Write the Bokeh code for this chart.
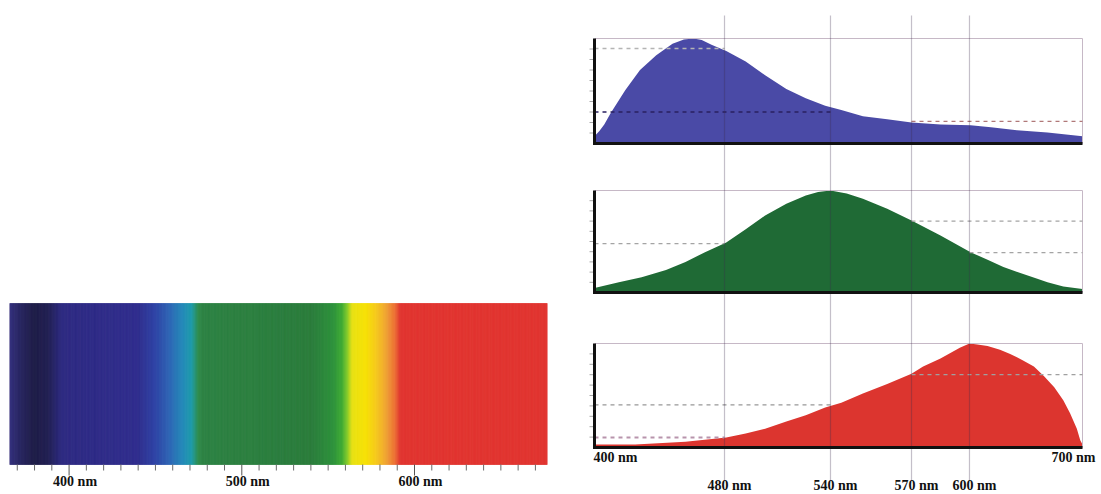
import numpy as np
from bokeh.plotting import figure
from bokeh.layouts import row
from bokeh.models import Range1d, ColumnDataSource
from bokeh.core.properties import value
from bokeh.embed import file_html
from bokeh.resources import INLINE

# ---------------- data ----------------
# visible spectrum strip: colour stops (wavelength in nm -> colour)
SPECTRUM_NM = [365.5, 372, 380, 388, 396, 440, 450, 458, 466, 471, 475, 478, 540, 553, 558, 561, 564,
               572, 578, 584, 589, 592, 677]
SPECTRUM_COLORS = ["#302c7c", "#24225e", "#1a1944", "#1e1c50", "#2a2680", "#2c2a8c", "#2a40a4", "#2a62b4",
                   "#2088b8", "#1a9aa8", "#2a8a48", "#2a8040", "#267a38", "#2a9038", "#3aa830", "#7cc828",
                   "#e8e010", "#f8e000", "#f6c818", "#f0a030", "#ec6a30", "#e0302c", "#e0302c"]
SPECTRUM_MAJOR = [400, 500, 600]
SPECTRUM_MAJOR_LABELS = ["400 nm", "500 nm", "600 nm"]
SPECTRUM_MINOR = [t for t in range(370, 677, 10) if t not in (400, 500, 600)]

# cone sensitivity curves (relative, 0..1)
BLUE_NM = [400, 403, 406, 410, 419, 428, 438, 448, 455, 461, 466, 472, 481, 492, 503, 515, 526, 537, 544,
           552, 561, 570, 585, 601, 619, 642, 669, 700]
BLUE_V = [0.07, 0.12, 0.18, 0.29, 0.51, 0.70, 0.84, 0.95, 0.99, 1.00, 0.985, 0.94, 0.88, 0.78, 0.65, 0.52,
          0.43, 0.36, 0.32, 0.26, 0.23, 0.20, 0.18, 0.174, 0.155, 0.127, 0.105, 0.07]

GREEN_NM = [400, 415, 429, 444, 456, 468, 481, 492, 503, 515, 526, 533, 540, 546, 552, 561, 570, 585, 601,
            616, 630, 645, 660, 669, 683, 700]
GREEN_V = [0.045, 0.10, 0.15, 0.22, 0.30, 0.395, 0.49, 0.62, 0.755, 0.87, 0.95, 0.985, 1.00, 0.97, 0.92,
           0.82, 0.706, 0.56, 0.395, 0.32, 0.25, 0.19, 0.134, 0.10, 0.06, 0.035]

RED_NM = [400, 425, 456, 481, 492, 503, 515, 526, 537, 544, 552, 561, 570, 576, 585, 595, 600, 607, 616,
          627, 636, 647, 657, 666, 675, 683, 689, 695, 698, 700]
RED_V = [0.03, 0.03, 0.055, 0.096, 0.135, 0.18, 0.25, 0.31, 0.385, 0.43, 0.52, 0.61, 0.71, 0.78, 0.856,
         0.96, 1.00, 0.99, 0.975, 0.94, 0.90, 0.84, 0.78, 0.685, 0.58, 0.455, 0.33, 0.18, 0.07, 0.03]

# dashed reference levels in each panel
BLUE_REF_LEVEL = [0.905, 0.30, 0.21]
BLUE_REF_FROM = [400, 400, 570]
BLUE_REF_TO = [480, 540, 700]
GREEN_REF_LEVEL = [0.48, 0.70, 0.39]
GREEN_REF_FROM = [400, 570, 600]
GREEN_REF_TO = [480, 700, 700]
RED_REF_LEVEL = [0.41, 0.096, 0.70]
RED_REF_FROM = [400, 400, 570]
RED_REF_TO = [540, 480, 700]

GRID_NM = [480, 540, 570, 600]
GRID_LABELS = ["480 nm", "540 nm", "570 nm", "600 nm"]
END_LABELS = ["400 nm", "700 nm"]
Y_TICKS = [0.1, 0.2, 0.3, 0.4, 0.5, 0.6, 0.7, 0.8, 0.9]

# ---------------- layout / style ----------------
# both figures use a page-pixel vertical coordinate (frame = whole canvas)
PAGE_H = 493
Y_RANGE = (PAGE_H, 0)
STRIP_TOP, STRIP_BOTTOM = 303, 464
MINOR_TICK_LEN, MAJOR_TICK_LEN = 6, 11
# the right-hand illustration uses a non-uniform wavelength axis
AXIS_NM = [400, 480, 540, 570, 600, 700]
AXIS_FRAC = [0.0, 0.2664, 0.4836, 0.6496, 0.7684, 1.0]
AXIS_PX = 488.0
PANEL_BASE = [143, 292, 447]
PANEL_H = [105, 102, 104]
FILL = ["#4a4aa6", "#1f6a35", "#dc352f"]
REF_COLORS = [["#b4b4b4", "#2a2060", "#b07878"],
              ["#a4a4a4", "#a4a4a4", "#a4a4a4"],
              ["#989898", "#b894ac", "#a0a0a0"]]
SERIF = value("Liberation Serif")


def xmap(nm):
    return np.interp(np.asarray(nm, dtype=float), AXIS_NM, AXIS_FRAC)


def hex_rgb(h):
    return np.array([int(h[i:i + 2], 16) for i in (1, 3, 5)], dtype=float)


# ---------------- left: spectrum strip ----------------
left = figure(width=578, height=PAGE_H, x_range=Range1d(SPECTRUM_NM[0], SPECTRUM_NM[-1]),
              y_range=Range1d(*Y_RANGE),
              min_border_left=9, min_border_right=31, min_border_top=0, min_border_bottom=0,
              x_axis_location=None, y_axis_location=None, toolbar_location=None, output_backend="svg")
left.grid.visible = False
left.outline_line_color = None

stops_rgb = np.array([hex_rgb(c) for c in SPECTRUM_COLORS])
edges = np.arange(SPECTRUM_NM[0], SPECTRUM_NM[-1] + 0.01, 0.5)
mids = (edges[:-1] + edges[1:]) / 2
cols = []
for m in mids:
    r, g, b = (np.interp(m, SPECTRUM_NM, stops_rgb[:, k]) for k in range(3))
    cols.append("#%02x%02x%02x" % (int(r), int(g), int(b)))
left.quad(left=edges[:-1], right=edges[1:], bottom=STRIP_BOTTOM, top=STRIP_TOP,
          fill_color=cols, line_color=cols, line_width=0.6)

left.segment(x0=SPECTRUM_MINOR, x1=SPECTRUM_MINOR, y0=STRIP_BOTTOM, y1=STRIP_BOTTOM + MINOR_TICK_LEN,
             line_color="#6a6a6a", line_width=1)
left.segment(x0=SPECTRUM_MAJOR, x1=SPECTRUM_MAJOR, y0=STRIP_BOTTOM, y1=STRIP_BOTTOM + MAJOR_TICK_LEN,
             line_color="#555555", line_width=1)
left.text(x=SPECTRUM_MAJOR, y=[481] * 3, text=SPECTRUM_MAJOR_LABELS, text_align="center",
          text_baseline="middle", x_offset=6, text_font=SERIF, text_font_style="bold",
          text_font_size="14px", text_color="#111111")

# ---------------- right: three sensitivity panels ----------------
right = figure(width=522, height=PAGE_H,
               x_range=Range1d(-14 / AXIS_PX, 1 + 18 / AXIS_PX), y_range=Range1d(*Y_RANGE),
               min_border_left=2, min_border_right=0, min_border_top=0, min_border_bottom=0,
               x_axis_location=None, y_axis_location=None, toolbar_location=None, output_backend="svg")
right.grid.visible = False
right.outline_line_color = None

curves = [(BLUE_NM, BLUE_V), (GREEN_NM, GREEN_V), (RED_NM, RED_V)]
refs = [(BLUE_REF_LEVEL, BLUE_REF_FROM, BLUE_REF_TO),
        (GREEN_REF_LEVEL, GREEN_REF_FROM, GREEN_REF_TO),
        (RED_REF_LEVEL, RED_REF_FROM, RED_REF_TO)]

for i, ((nm, v), (lvl, x0, x1)) in enumerate(zip(curves, refs)):
    base, h = PANEL_BASE[i], PANEL_H[i]
    top = base - h
    src = ColumnDataSource(dict(x=xmap(nm), y1=[base] * len(nm), y2=base - np.asarray(v) * h))
    right.varea(x="x", y1="y1", y2="y2", source=src, fill_color=FILL[i])
    # light frame (top + right edges)
    right.line(x=[0, 1, 1], y=[top, top, base], line_color="#c6b8c6", line_width=1)
    # small ticks left of the vertical axis
    ty = [base - t * h for t in Y_TICKS]
    right.segment(x0=-5 / AXIS_PX, x1=-1.5 / AXIS_PX, y0=ty, y1=ty, line_color="#a8a8a8", line_width=1)
    # dashed reference levels
    ly = [base - l * h for l in lvl]
    right.segment(x0=xmap(x0), x1=xmap(x1), y0=ly, y1=ly, line_color=REF_COLORS[i],
                  line_width=[1.3, 1.3, 1.3] if i != 2 else [1.3, 2.0, 1.3], line_dash="4 4")

# vertical wavelength guides spanning all panels
gx = xmap(GRID_NM)
right.segment(x0=gx, x1=gx, y0=15, y1=480, line_color="#3c2c4c", line_alpha=0.3, line_width=1.2)

# black axes of each panel
for i in range(3):
    base, h = PANEL_BASE[i], PANEL_H[i]
    right.line(x=[0, 0, 1], y=[base - h, base, base], line_color="#111111", line_width=3, line_join="miter")

# wavelength labels
right.text(x=gx, y=[485] * len(gx), text=GRID_LABELS, text_align="center", text_baseline="middle",
           x_offset=5, text_font=SERIF, text_font_style="bold", text_font_size="14px", text_color="#111111")
right.text(x=[0], y=[457], text=[END_LABELS[0]], text_align="left", text_baseline="middle",
           x_offset=-1, text_font=SERIF, text_font_style="bold", text_font_size="14px", text_color="#111111")
right.text(x=[1], y=[457], text=[END_LABELS[1]], text_align="right", text_baseline="middle",
           x_offset=13, text_font=SERIF, text_font_style="bold", text_font_size="14px", text_color="#111111")

layout = row(left, right)
open("out.html", "w").write(file_html(layout, INLINE))
